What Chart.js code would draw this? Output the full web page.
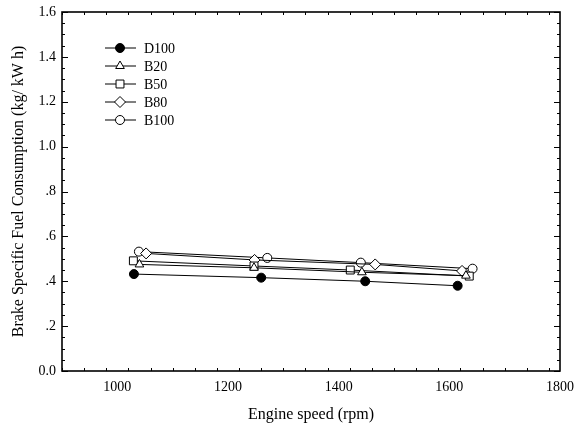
<!DOCTYPE html>
<html>
<head>
<meta charset="utf-8">
<script src="https://cdn.jsdelivr.net/npm/chart.js@4/dist/chart.umd.min.js"></script>
<style>
  html, body { margin: 0; padding: 0; background: #fff; }
  #wrap { width: 575px; height: 428px; }
</style>
</head>
<body>
<div id="wrap"><canvas id="bsfc"></canvas></div>
<script>
// engine speed (rpm) and BSFC (kg/kW h)
var d100X = [1030, 1260, 1448, 1615];
var d100Y = [0.432, 0.416, 0.400, 0.380];
var b20X = [1040, 1247, 1442, 1630];
var b20Y = [0.475, 0.460, 0.440, 0.425];
var b50X = [1029, 1247, 1421, 1636];
var b50Y = [0.491, 0.468, 0.450, 0.423];
var b80X = [1052, 1248, 1466, 1623];
var b80Y = [0.524, 0.495, 0.475, 0.446];
var b100X = [1039, 1271, 1440, 1642];
var b100Y = [0.532, 0.504, 0.483, 0.456];

var xTicks = [1000, 1200, 1400, 1600, 1800];
var xTickLabels = ['1000', '1200', '1400', '1600', '1800'];
var yTicks = [0, 0.2, 0.4, 0.6, 0.8, 1.0, 1.2, 1.4, 1.6];
var yTickLabels = ['0.0', '.2', '.4', '.6', '.8', '1.0', '1.2', '1.4', '1.6'];

var serif = "'Liberation Serif', 'DejaVu Serif', serif";

function pts(xs, ys) {
   return xs.map(function (x, i) { return { x: x, y: ys[i] }; });
}

function labelFor(ticks, labels) {
   return function (v) {
      var k = ticks.findIndex(function (t) { return Math.abs(t - v) < 1e-6; });
      return k >= 0 ? labels[k] : '';
   };
}

function series(label, xs, ys, style, fill, radius) {
   return {
      label: label,
      data: pts(xs, ys),
      borderColor: '#000',
      borderWidth: 1,
      backgroundColor: fill,
      pointStyle: style,
      pointRadius: radius,
      pointBorderWidth: 1,
      pointBorderColor: '#000',
      pointBackgroundColor: fill,
      tension: 0
   };
}

// frame with inward major + minor ticks on all four sides
var framePlugin = {
   id: 'frame',
   afterDraw: function (chart) {
      var ctx = chart.ctx, a = chart.chartArea;
      var xs = chart.scales.x, ys = chart.scales.y;
      ctx.save();
      ctx.strokeStyle = '#000';
      ctx.lineWidth = 1;
      ctx.beginPath();
      var v, p, big;
      for (v = xs.min; v <= xs.max + 1e-6; v += 40) {
         p = Math.round(xs.getPixelForValue(v)) + 0.5;
         big = Math.abs(v % 200) < 1e-6;
         var l = big ? 6 : 3;
         ctx.moveTo(p, a.bottom); ctx.lineTo(p, a.bottom - l);
         ctx.moveTo(p, a.top); ctx.lineTo(p, a.top + l);
      }
      for (var i = 0; i <= 32; i++) {
         v = i * 0.05;
         p = Math.round(ys.getPixelForValue(v)) + 0.5;
         big = i % 4 === 0;
         var m = big ? 6 : 3;
         ctx.moveTo(a.left, p); ctx.lineTo(a.left + m, p);
         ctx.moveTo(a.right, p); ctx.lineTo(a.right - m, p);
      }
      ctx.stroke();
      ctx.lineWidth = 1.6;
      ctx.strokeRect(a.left, a.top, a.right - a.left, a.bottom - a.top);
      ctx.restore();
   }
};

// legend drawn inside the plot: short line with the marker on it
var legendPlugin = {
   id: 'inlineLegend',
   afterDraw: function (chart) {
      var ctx = chart.ctx, a = chart.chartArea;
      var x0 = a.left + 43, y0 = a.top + 36, row = 18;
      ctx.save();
      ctx.font = '14px ' + serif;
      ctx.textBaseline = 'middle';
      chart.data.datasets.forEach(function (ds, i) {
         var y = y0 + i * row;
         ctx.strokeStyle = '#000';
         ctx.lineWidth = 1;
         ctx.beginPath();
         ctx.moveTo(x0, y); ctx.lineTo(x0 + 31, y);
         ctx.stroke();
         ctx.fillStyle = ds.pointBackgroundColor;
         Chart.helpers.drawPoint(ctx, {
            pointStyle: ds.pointStyle, radius: ds.pointRadius,
            rotation: 0, borderWidth: 1
         }, x0 + 15, y);
         ctx.fillStyle = '#000';
         ctx.fillText(ds.label, x0 + 39, y + 1);
      });
      ctx.restore();
   }
};

new Chart(document.getElementById('bsfc').getContext('2d'), {
   type: 'line',
   data: {
      datasets: [
         series('D100', d100X, d100Y, 'circle', '#000', 4.5),
         series('B20', b20X, b20Y, 'triangle', '#fff', 5),
         series('B50', b50X, b50Y, 'rect', '#fff', 5.6),
         series('B80', b80X, b80Y, 'rectRot', '#fff', 5.5),
         series('B100', b100X, b100Y, 'circle', '#fff', 4.5)
      ]
   },
   options: {
      responsive: true,
      maintainAspectRatio: false,
      animation: false,
      layout: { padding: { top: 12, right: 15, left: 0, bottom: 0 } },
      plugins: { legend: { display: false }, tooltip: { enabled: false } },
      scales: {
         x: {
            type: 'linear',
            min: 900,
            max: 1800,
            afterBuildTicks: function (s) { s.ticks = xTicks.map(function (v) { return { value: v }; }); },
            afterFit: function (s) { s.height = 57; s.paddingRight = 0; s.paddingLeft = 0; },
            grid: { display: false, drawTicks: false },
            border: { display: false },
            ticks: {
               color: '#000', padding: 8, maxRotation: 0, font: { family: serif, size: 14 },
               callback: labelFor(xTicks, xTickLabels)
            },
            title: {
               display: true, text: 'Engine speed (rpm)', color: '#000',
               padding: { top: 0, bottom: 4 }, font: { family: serif, size: 16 }
            }
         },
         y: {
            min: 0,
            max: 1.6,
            afterBuildTicks: function (s) { s.ticks = yTicks.map(function (v) { return { value: v }; }); },
            afterFit: function (s) { s.width = 62; s.paddingTop = 0; s.paddingBottom = 0; },
            grid: { display: false, drawTicks: false },
            border: { display: false },
            ticks: {
               color: '#000', padding: 6, font: { family: serif, size: 14 },
               callback: labelFor(yTicks, yTickLabels)
            },
            title: {
               display: true, text: 'Brake Specific Fuel Consumption (kg/ kW h)', color: '#000',
               padding: { top: 9, bottom: 0 }, font: { family: serif, size: 16 }
            }
         }
      }
   },
   plugins: [framePlugin, legendPlugin]
});
</script>
</body>
</html>
